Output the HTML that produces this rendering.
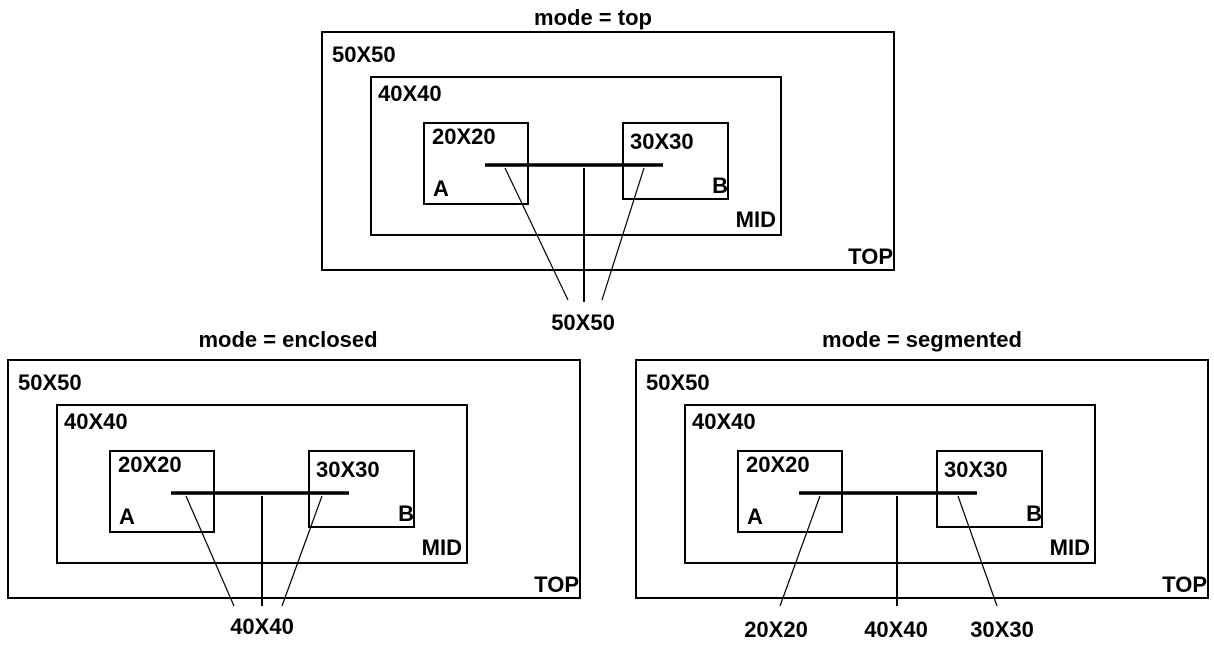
<!DOCTYPE html>
<html><head><style>
html,body{margin:0;padding:0;background:#fff;}
svg text{font-family:"Liberation Sans",Arial,sans-serif;font-weight:bold;font-size:22px;fill:#000;}
</style></head><body>
<svg width="1214" height="645" viewBox="0 0 1214 645" xmlns="http://www.w3.org/2000/svg">
<defs>
<g id="panel" fill="none" stroke="#000">
  <rect x="0" y="0" width="572" height="238" stroke-width="2"/>
  <rect x="49" y="45" width="410" height="158" stroke-width="2"/>
  <rect x="102" y="91" width="104" height="81" stroke-width="2"/>
  <rect x="301" y="91" width="105" height="76" stroke-width="2"/>
  <line x1="163" y1="133" x2="341" y2="133" stroke-width="3.5"/>
</g>
</defs>

<text x="593" y="25" text-anchor="middle">mode = top</text>
<text x="288" y="347" text-anchor="middle">mode = enclosed</text>
<text x="922" y="347" text-anchor="middle">mode = segmented</text>

<g transform="translate(322,32)">
  <use href="#panel"/>
  <text x="10" y="30">50X50</text>
  <text x="56" y="69">40X40</text>
  <text x="110" y="112">20X20</text>
  <text x="308" y="117">30X30</text>
  <text x="111" y="164">A</text>
  <text x="406" y="161" text-anchor="end">B</text>
  <text x="454" y="195" text-anchor="end">MID</text>
  <text x="571" y="232" text-anchor="end">TOP</text>
  <line x1="262" y1="136" x2="262" y2="270" stroke="#000" stroke-width="2"/>
  <line x1="183" y1="136" x2="246" y2="268" stroke="#000" stroke-width="1.2"/>
  <line x1="322" y1="136" x2="280" y2="268" stroke="#000" stroke-width="1.2"/>
  <text x="261" y="298" text-anchor="middle">50X50</text>
</g>

<g transform="translate(8,360)">
  <use href="#panel"/>
  <text x="10" y="30">50X50</text>
  <text x="56" y="69">40X40</text>
  <text x="110" y="112">20X20</text>
  <text x="308" y="117">30X30</text>
  <text x="111" y="164">A</text>
  <text x="406" y="161" text-anchor="end">B</text>
  <text x="454" y="195" text-anchor="end">MID</text>
  <text x="571" y="232" text-anchor="end">TOP</text>
  <line x1="254" y1="136" x2="254" y2="246" stroke="#000" stroke-width="2"/>
  <line x1="178" y1="136" x2="226" y2="246" stroke="#000" stroke-width="1.2"/>
  <line x1="314" y1="136" x2="274" y2="246" stroke="#000" stroke-width="1.2"/>
  <text x="254" y="274" text-anchor="middle">40X40</text>
</g>

<g transform="translate(636,360)">
  <use href="#panel"/>
  <text x="10" y="30">50X50</text>
  <text x="56" y="69">40X40</text>
  <text x="110" y="112">20X20</text>
  <text x="308" y="117">30X30</text>
  <text x="111" y="164">A</text>
  <text x="406" y="161" text-anchor="end">B</text>
  <text x="454" y="195" text-anchor="end">MID</text>
  <text x="571" y="232" text-anchor="end">TOP</text>
  <line x1="261" y1="136" x2="261" y2="246" stroke="#000" stroke-width="2"/>
  <line x1="184" y1="136" x2="144" y2="246" stroke="#000" stroke-width="1.2"/>
  <line x1="322" y1="136" x2="361" y2="246" stroke="#000" stroke-width="1.2"/>
  <text x="140" y="277" text-anchor="middle">20X20</text>
  <text x="260" y="277" text-anchor="middle">40X40</text>
  <text x="366" y="277" text-anchor="middle">30X30</text>
</g>
</svg>
</body></html>
